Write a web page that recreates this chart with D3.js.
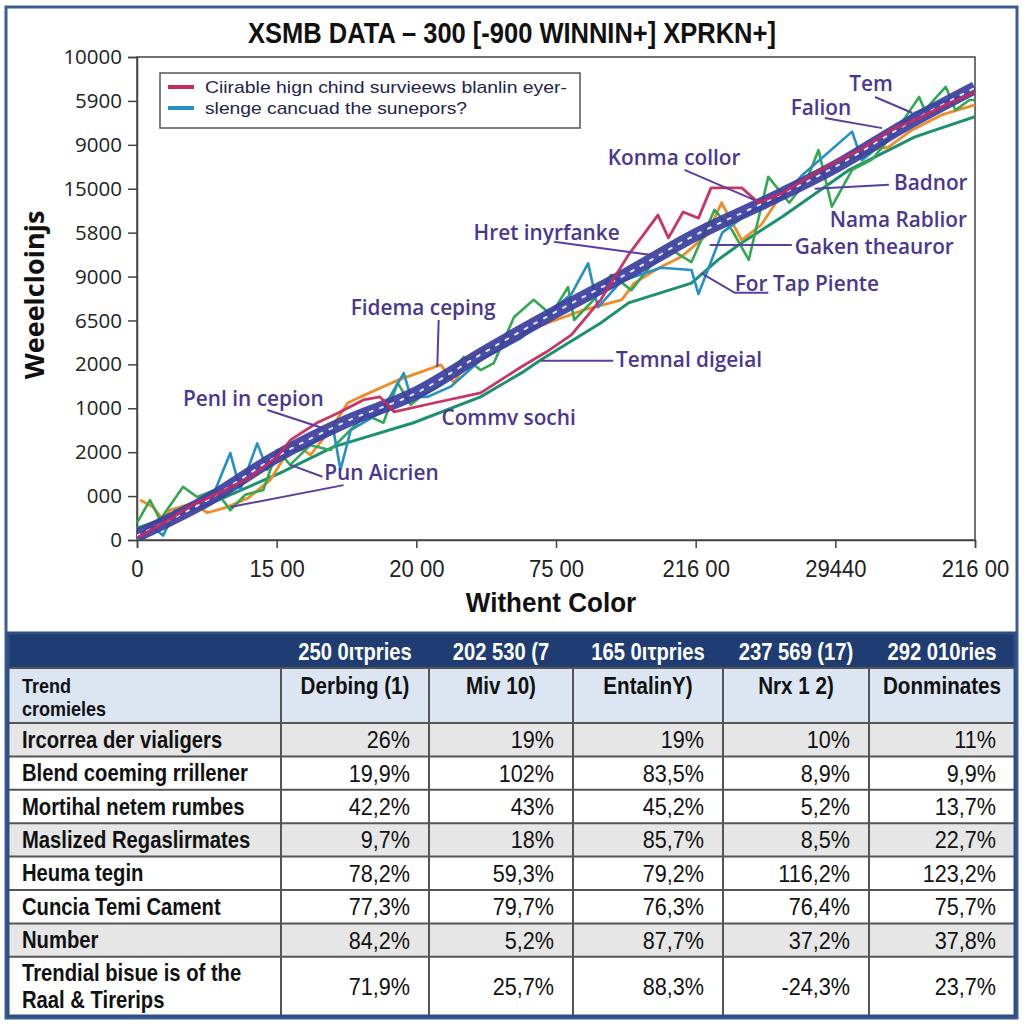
<!DOCTYPE html>
<html><head><meta charset="utf-8">
<script src="https://cdn.jsdelivr.net/npm/d3@7"></script>
<style>
html,body{margin:0;padding:0;background:#fff;}
svg{display:block;}
</style></head>
<body>
<svg id="c" width="1024" height="1024"></svg>
<script>
// ---------- DATA ----------
const titleText = "XSMB DATA – 300 [-900 WINNIN+] XPRKN+]";
const yTitle = "Weeelcloinjs";
const xTitle = "Withent Color";
const yTickLabels = ["0","000","2000","1000","2000","6500","9000","5800","15000","9000","5900","10000"];
const xTickLabels = ["0","15 00","20 00","75 00","216 00","29440","216 00"];
const legendLabels = ["Ciirable hign chind survieews blanlin eyer-","slenge cancuad the sunepors?"];

const trendX = [0,5,10,15,20,25,30,35,40,45,50,55,60];
const trendY = [0.1,0.9,1.9,2.7,3.35,4.3,5.2,6.05,6.95,7.7,8.5,9.45,10.3];

const tealX = [0,0.93,1.87,2.73,3.8,4.52,5.6,6.68,7.39,8.61,9.33,10.05,11.7,14.07,14.57,15.3,17.44,19.1,19.6,20.8,22.5,24.6,27.5,29.6,31.1,32.3,33.0,34.7,37.5,39.7,40.2,41.9,44.0,46.2,47.6,51.2,51.9,54.05,55.5,56.9,60];
const tealY = [0,0.34,0.1,0.68,0.68,0.9,1.14,1.98,1.14,2.2,1.6,2.0,2.05,2.5,1.6,2.5,2.9,3.8,3.26,3.26,3.5,4.1,4.6,5.2,5.6,6.3,5.3,5.9,6.2,6.15,5.6,7.0,7.5,7.8,8.3,9.3,8.65,9.2,9.7,9.9,10.2];

const greenX = [0,0.93,1.65,3.3,4.31,5.6,6.68,7.75,9.04,10.05,10.97,12.4,13.85,15.3,16.36,17.65,18.66,19.6,20.3,21.75,23.4,24.6,25.55,27.0,28.4,29.65,30.86,31.3,32.7,33.95,35.4,36.8,38.3,39.7,41.35,42.6,43.8,45.2,46.7,47.95,48.8,49.75,51.2,52.6,54.4,56.0,56.4,57.9,58.6,59.6,60];
const greenY = [0.39,0.91,0.46,1.21,0.98,1.14,0.68,1.03,1.14,2.05,1.71,2.16,2.05,2.51,2.85,2.67,3.58,3.08,3.26,3.53,4.17,3.87,4.03,5.08,5.47,5.13,5.76,5.01,5.47,6.04,5.69,6.26,6.6,6.33,7.52,7.06,6.38,8.27,7.68,8.2,8.88,7.59,8.43,8.66,9.34,10.09,9.79,10.32,9.79,10.02,10.02];

const orangeX = [0.22,1.15,1.87,2.37,4.02,5.03,6.46,7.97,9.55,11.2,12.42,13.85,15.08,16.0,18.66,20.1,21.75,22.7,23.7,24.84,26.0,28.0,30.0,32.0,34.7,35.6,37.5,38.98,40.8,41.85,43.3,44.7,46.2,48.3,51.0,52.6,53.8,55.5,57.6,60];
const orangeY = [0.91,0.75,0.46,0.68,0.84,0.62,0.75,0.96,1.37,2.21,1.94,2.51,3.12,3.26,3.64,3.8,3.99,3.58,4.1,4.33,4.44,4.78,5.01,5.24,5.47,5.85,6.22,6.45,6.95,7.68,6.83,7.18,7.9,8.2,8.66,8.88,8.95,9.34,9.68,9.91];

const darkGreenX = [0,5.03,10.27,14.07,19.8,24.6,27.5,28.9,33.2,35.2,39.7,41.6,43.3,46.2,51.0,55.7,60];
const darkGreenY = [0.27,0.8,1.53,2.12,2.67,3.26,3.8,4.1,4.94,5.4,5.85,6.38,6.77,7.36,8.43,9.18,9.64];

const crimsonX = [0,2,4,6,8,10,11,12.9,14.4,16.2,17.4,18.4,21.25,24.6,27.5,29.3,31.1,33.2,35.2,37.3,38.05,39.1,40.2,41.1,43.3,44.5,46.2,48,50,52,54,56,58,60];
const crimsonY = [0.05,0.41,0.8,1.09,1.41,1.89,2.28,2.67,2.89,3.19,3.26,2.92,3.12,3.35,3.94,4.28,4.67,5.47,6.5,7.4,6.88,7.47,7.33,8.02,8.02,7.68,7.9,8.25,8.61,8.93,9.34,9.61,9.93,10.2];

// annotations: label, text start x / centre y (data units), leader polylines (data units)
const annoLabels = ["Tem","Falion","Konma collor","Badnor","Nama Rablior","Gaken theauror","Hret inyrfanke","For Tap Piente","Fidema ceping","Temnal digeial","Penl in cepion","Commv sochi","Pun Aicrien"];
const annoTextX = [51.0,46.8,33.7,54.2,49.6,47.1,24.1,42.8,15.3,34.3,3.3,21.8,13.4];
const annoTextY = [10.39,9.84,8.72,8.15,7.31,6.68,7.0,5.85,5.3,4.1,3.23,2.8,1.53];
const annoLines = [
  [[52.84,10.09],[55.49,9.73]],
  [[49.25,9.61],[53.34,9.38]],
  [[39.2,8.43],[44.22,7.74]],
  [[53.84,8.09],[48.53,8.0]],
  [[46.88,6.72],[41.0,6.72]],
  [[29.86,6.79],[36.83,6.49]],
  [[45.2,5.63],[42.8,5.63],[40.4,6.08]],
  [[21.6,5.01],[21.5,3.94]],
  [[34.1,4.08],[28.9,4.08]],
  [[9.33,2.96],[13.28,2.55]],
  [[13.28,1.44],[10.98,1.71]],
  [[14.79,1.25],[6.68,0.75]]
];

// table
const colHeaders = ["250 0ιτpries","202 530 (7","165 0ιτpries","237 569 (17)","292 010ries"];
const colSubHeaders = ["Derbing (1)","Miv 10)","EntalinY)","Nrx 1 2)","Donminates"];
const cornerLabel = ["Trend","cromieles"];
const rowLabels = [["Ircorrea der vialigers"],["Blend coeming rrillener"],["Mortihal netem rumbes"],["Maslized Regaslirmates"],["Heuma tegin"],["Cuncia Temi Cament"],["Number"],["Trendial bisue is of the","Raal & Tirerips"]];
const row1 = ["26%","19%","19%","10%","11%"];
const row2 = ["19,9%","102%","83,5%","8,9%","9,9%"];
const row3 = ["42,2%","43%","45,2%","5,2%","13,7%"];
const row4 = ["9,7%","18%","85,7%","8,5%","22,7%"];
const row5 = ["78,2%","59,3%","79,2%","116,2%","123,2%"];
const row6 = ["77,3%","79,7%","76,3%","76,4%","75,7%"];
const row7 = ["84,2%","5,2%","87,7%","37,2%","37,8%"];
const row8 = ["71,9%","25,7%","88,3%","-24,3%","23,7%"];
const tableRows = [row1,row2,row3,row4,row5,row6,row7,row8];
const shadedRows = [0,3,6];

// ---------- DRAW ----------
const svg = d3.select("#c");
const arial = "'Liberation Sans',Arial,sans-serif";
const sans = "'Open Sans','Noto Sans',sans-serif";

// condensed text helper (Calibri-like look from Liberation Sans squeezed); lines -> tspans
function ntext(g, x, y, t, o){
  o = o || {};
  const el = g.append("text")
    .attr("transform",`translate(${x},${y}) scale(${o.sx||0.86},1)`)
    .attr("text-anchor",o.anchor||"start")
    .attr("font-family",arial).attr("font-size",o.size||22)
    .attr("font-weight",o.bold?"bold":"normal")
    .attr("fill",o.fill||"#111");
  const lines = Array.isArray(t) ? t : [t];
  lines.forEach((s,j)=>{
    el.append("tspan").attr("x",0).attr("y",j*(o.lh||0)).text(s);
  });
  return el;
}

svg.append("rect").attr("x",0).attr("y",0).attr("width",1024).attr("height",1024).attr("fill","#fff");
svg.append("rect").attr("x",6).attr("y",7).attr("width",1011).attr("height",1011)
  .attr("fill","none").attr("stroke","#3d5c92").attr("stroke-width",3);

const L = 137, R = 975, T = 57, B = 540;
const x = d3.scaleLinear().domain([0,60]).range([L,R]);
const y = d3.scaleLinear().domain([0,11]).range([B,T]);

ntext(svg, 512, 43, titleText, {anchor:"middle", size:30, bold:true, sx:0.85});

// frame
svg.append("rect").attr("x",L).attr("y",T).attr("width",R-L).attr("height",B-T)
  .attr("fill","#fff").attr("stroke","#444").attr("stroke-width",1.5);

const yAxis = svg.append("g").attr("transform",`translate(${L},0)`)
  .call(d3.axisLeft(y).tickValues(d3.range(12)).tickFormat(i=>yTickLabels[i]).tickSize(9).tickPadding(6));
yAxis.selectAll("text").attr("font-family",sans).attr("font-size",20.5).attr("fill","#222");
yAxis.selectAll("line,path").attr("stroke","#444").attr("stroke-width",1.5);

const xAxis = svg.append("g").attr("transform",`translate(0,${B})`)
  .call(d3.axisBottom(x).tickValues(d3.range(7).map(i=>i*10)).tickFormat((d,i)=>xTickLabels[i]).tickSize(8).tickPadding(12));
xAxis.selectAll(".tick text").attr("font-family",arial).attr("font-size",24).attr("fill","#222")
  .attr("transform","scale(0.92,1)");
xAxis.selectAll("line,path").attr("stroke","#444").attr("stroke-width",1.5);

svg.append("text").attr("transform","translate(44,295) rotate(-90)").attr("text-anchor","middle")
  .attr("font-family",sans).attr("font-weight","bold").attr("font-size",27).attr("fill","#111").text(yTitle);
ntext(svg, 551, 612, xTitle, {anchor:"middle", size:28, bold:true, sx:0.93});

// lines
svg.append("clipPath").attr("id","clip").append("rect").attr("x",L).attr("y",T).attr("width",R-L).attr("height",B-T);
const plot = svg.append("g").attr("clip-path","url(#clip)");
const line = d3.line().x(d=>x(d[0])).y(d=>y(d[1]));
const zipS = (xs,ys)=>xs.map((v,i)=>[v,ys[i]]);
function drawSeries(xs,ys,color,w,op){
  plot.append("path").datum(zipS(xs,ys)).attr("d",line).attr("fill","none")
    .attr("stroke",color).attr("stroke-width",w).attr("stroke-linejoin","round").attr("opacity",op||1);
}
drawSeries(darkGreenX,darkGreenY,"#1c9170",3);
drawSeries(orangeX,orangeY,"#f08c28",2.8);
drawSeries(greenX,greenY,"#34a851",2.6);
drawSeries(tealX,tealY,"#2490c6",2.6);
// trend band
const trendLine = d3.line().curve(d3.curveMonotoneX).x(d=>x(d[0])).y(d=>y(d[1]));
plot.append("path").datum(zipS(trendX,trendY)).attr("d",trendLine).attr("fill","none")
  .attr("stroke","#3c3f9e").attr("stroke-width",13).attr("opacity",0.93);
plot.append("path").datum(zipS(trendX,trendY)).attr("d",trendLine).attr("fill","none")
  .attr("stroke","#dfe4ff").attr("stroke-width",2).attr("stroke-dasharray","3,8").attr("stroke-linecap","round");
drawSeries(crimsonX,crimsonY,"#c62a5e",2.8,0.95);

// legend
svg.append("rect").attr("x",160).attr("y",73).attr("width",420).attr("height",55)
  .attr("fill","#fff").attr("stroke","#555").attr("stroke-width",1.5);
const legColors = ["#c62a5e","#2490c6"];
const legWidths = [362,262];
legendLabels.forEach((t,i)=>{
  const yy = 87 + i*21;
  svg.append("line").attr("x1",168).attr("x2",194).attr("y1",yy).attr("y2",yy)
    .attr("stroke",legColors[i]).attr("stroke-width",4);
  svg.append("text").attr("x",205).attr("y",yy+6).attr("font-family",arial).attr("font-size",17)
    .attr("textLength",legWidths[i]).attr("lengthAdjust","spacingAndGlyphs")
    .attr("fill","#22244a").text(t);
});

// annotations
const annoColor = "#4a3790";
annoLines.forEach(pts=>{
  svg.append("path").datum(pts).attr("d",line).attr("fill","none")
    .attr("stroke","#5a3fa0").attr("stroke-width",2);
});
annoLabels.forEach((t,i)=>{
  svg.append("text").attr("x",x(annoTextX[i])).attr("y",y(annoTextY[i])).attr("dy","0.36em")
    .attr("font-family",sans).attr("font-weight",600).attr("font-size",20.8)
    .attr("fill",annoColor).text(t);
});

// ---------- TABLE ----------
const colEdges = [8,281,429,573,723,869,1015];
const hdrTop = 633, subTop = 668, bodyTop = 723;
const rowH = 33.4;
const rowTops = d3.range(8).map(i=>bodyTop + i*rowH);
const tableBottom = 1016;
const tb = svg.append("g");
tb.append("rect").attr("x",colEdges[0]).attr("y",hdrTop).attr("width",colEdges[6]-colEdges[0]).attr("height",subTop-hdrTop).attr("fill","#1f3d73");
tb.append("rect").attr("x",colEdges[0]).attr("y",subTop).attr("width",colEdges[6]-colEdges[0]).attr("height",bodyTop-subTop).attr("fill","#dce6f2");
tableRows.forEach((r,i)=>{
  const top = rowTops[i], bot = i<7 ? rowTops[i+1] : tableBottom;
  tb.append("rect").attr("x",colEdges[0]).attr("y",top).attr("width",colEdges[6]-colEdges[0]).attr("height",bot-top)
    .attr("fill", shadedRows.includes(i) ? "#e6e6e6" : "#fff");
});
[subTop,bodyTop].concat(rowTops.slice(1)).forEach(yy=>{
  tb.append("line").attr("x1",colEdges[0]).attr("x2",colEdges[6]).attr("y1",yy).attr("y2",yy).attr("stroke","#555").attr("stroke-width",2);
});
colEdges.slice(1,6).forEach(xx=>{
  tb.append("line").attr("x1",xx).attr("x2",xx).attr("y1",subTop).attr("y2",tableBottom).attr("stroke","#555").attr("stroke-width",2);
});
tb.append("rect").attr("x",colEdges[0]).attr("y",hdrTop).attr("width",colEdges[6]-colEdges[0]).attr("height",tableBottom-hdrTop)
  .attr("fill","none").attr("stroke","#2e4f86").attr("stroke-width",3);

colHeaders.forEach((t,i)=>{
  ntext(tb, (colEdges[i+1]+colEdges[i+2])/2, 660, t, {anchor:"middle", size:23.5, bold:true, fill:"#fff", sx:0.86});
});
colSubHeaders.forEach((t,i)=>{
  ntext(tb, (colEdges[i+1]+colEdges[i+2])/2, 694, t, {anchor:"middle", size:24, bold:true, sx:0.86});
});
ntext(tb, 22, 693, cornerLabel, {size:20, bold:true, sx:0.9, lh:23.5});
rowLabels.forEach((lines,i)=>{
  const top = rowTops[i], bot = i<7 ? rowTops[i+1] : tableBottom;
  const mid = (top+bot)/2;
  ntext(tb, 22, mid + 8 - (lines.length-1)*13.5, lines, {size:23, bold:true, sx:0.88, lh:27});
  tableRows[i].forEach((v,k)=>{
    ntext(tb, colEdges[k+2]-19, mid+8.5, v, {anchor:"end", size:24, sx:0.9});
  });
});
</script>
</body></html>
